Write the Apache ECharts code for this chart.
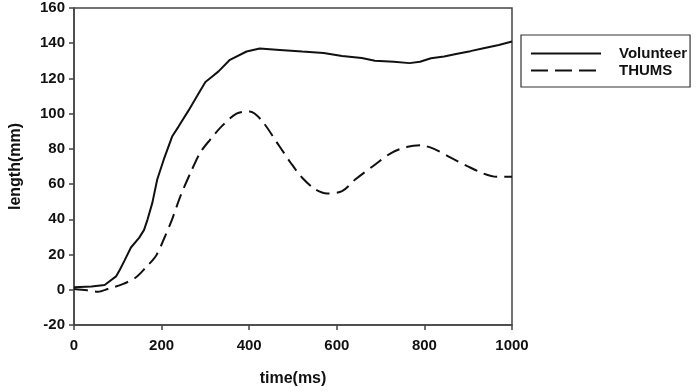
<!DOCTYPE html>
<html>
<head>
<meta charset="utf-8">
<script src="https://cdn.jsdelivr.net/npm/echarts@6/dist/echarts.min.js"></script>
<style>
  html, body { margin: 0; padding: 0; background: #fff; }
  #chart { width: 699px; height: 392px; }
</style>
</head>
<body>
<div id="chart"></div>
<script>
// time (ms) and length (mm)
const volunteerTime = [0, 40, 70, 96, 105, 115, 130, 149, 160, 168, 179, 190, 205, 224, 239, 262, 281, 300, 315, 330, 356, 394, 424, 470, 521, 570, 612, 657, 687, 730, 766, 790, 815, 845, 875, 905, 935, 970, 1000];
const volunteerLen = [1.4, 1.8, 2.7, 7.6, 11.5, 16.4, 24, 29.6, 34, 40, 49.5, 62.6, 74, 87, 92.8, 102, 110, 118, 121, 124, 130.6, 135.3, 137, 136.2, 135.3, 134.5, 132.8, 131.6, 130, 129.5, 128.7, 129.5, 131.5, 132.5, 134, 135.5, 137.2, 139, 141];

const thumsTime = [0, 30, 55, 77, 111, 141, 164, 187, 205, 224, 243, 266, 288, 311, 337, 371, 401, 427, 469, 495, 521, 551, 578, 612, 642, 687, 725, 762, 792, 822, 860, 898, 935, 965, 1000];
const thumsLen = [0.4, -0.3, -1.1, 0.4, 3.2, 7, 12.7, 19.2, 28.7, 40, 53.2, 66.4, 77.8, 85.3, 92.8, 100, 101.3, 96.6, 81.5, 72, 63.6, 57, 54.7, 56, 62.6, 71, 77.8, 81.2, 82, 80, 75, 70.2, 66, 64.2, 64.2];

const seriesNames = ['Volunteer', 'THUMS'];

const pairs = (xs, ys) => xs.map((x, i) => [x, ys[i]]);

const chart = echarts.init(document.getElementById('chart'));

const axisFont = { fontFamily: 'Liberation Sans, Arial', fontWeight: 'bold', fontSize: 15, color: '#111' };
const axisLine = { show: true, onZero: false, lineStyle: { color: '#444', width: 1.5 } };
const axisTick = { show: true, inside: false, length: 5, lineStyle: { color: '#444', width: 1.5 } };

chart.setOption({
  animation: false,
  backgroundColor: '#fff',
  grid: {
    left: 69, top: 8, right: 187, bottom: 66,
    show: true, borderColor: '#444', borderWidth: 1.5
  },
  legend: {
    orient: 'vertical',
    left: 521, top: 35,
    padding: [11, 3, 9, 9],
    itemWidth: 70, itemHeight: 14, itemGap: 2,
    borderColor: '#333', borderWidth: 1.2,
    itemStyle: { color: 'transparent', borderWidth: 0, opacity: 0 },
    textStyle: { fontFamily: 'Liberation Sans, Arial', fontWeight: 'bold', fontSize: 15, color: '#111', padding: [0, 0, 0, 13] },
    data: [
      { name: seriesNames[0] },
      { name: seriesNames[1], lineStyle: { type: [17, 7] } }
    ],
    selectedMode: false
  },
  xAxis: {
    type: 'value', min: 0, max: 1000, interval: 200,
    name: 'time(ms)', nameLocation: 'middle', nameGap: 46,
    nameTextStyle: { fontFamily: 'Liberation Sans, Arial', fontWeight: 'bold', fontSize: 16, color: '#111' },
    axisLine: axisLine,
    axisTick: axisTick,
    axisLabel: Object.assign({ margin: 13, formatter: v => String(v) }, axisFont),
    splitLine: { show: false }
  },
  yAxis: {
    type: 'value', min: -20, max: 160, interval: 20,
    name: 'length(mm)', nameLocation: 'middle', nameGap: 50, nameRotate: 90,
    nameTextStyle: { fontFamily: 'Liberation Sans, Arial', fontWeight: 'bold', fontSize: 16, color: '#111' },
    axisLine: axisLine,
    axisTick: axisTick,
    axisLabel: Object.assign({ margin: 9 }, axisFont),
    splitLine: { show: false }
  },
  series: [
    {
      name: seriesNames[0], type: 'line', symbol: 'none', smooth: false,
      lineStyle: { color: '#111', width: 2, type: 'solid' },
      itemStyle: { color: '#111' },
      data: pairs(volunteerTime, volunteerLen)
    },
    {
      name: seriesNames[1], type: 'line', symbol: 'none', smooth: 0.3,
      lineStyle: { color: '#111', width: 2, type: [14, 7] },
      itemStyle: { color: '#111' },
      data: pairs(thumsTime, thumsLen)
    }
  ]
});
</script>
</body>
</html>
